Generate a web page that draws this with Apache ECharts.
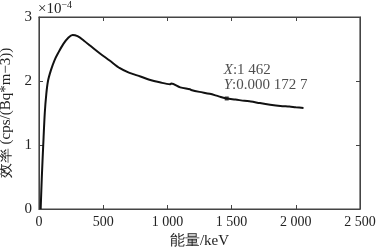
<!DOCTYPE html>
<html>
<head>
<meta charset="utf-8">
<script src="https://cdn.jsdelivr.net/npm/echarts@6/dist/echarts.min.js"></script>
<style>
  html, body { margin: 0; padding: 0; background: #fff; }
  #wrap { position: relative; width: 386px; height: 248px; }
  #main, #text { position: absolute; left: 0; top: 0; width: 386px; height: 248px; }
  #text { pointer-events: none; }
</style>
</head>
<body>
<div id="wrap">
  <div id="main"></div>
  <div id="text"></div>
</div>
<script>
// energy (keV) and efficiency (x1e-4 cps/(Bq*m-3))
const energy = [13, 22, 33, 45, 57, 70, 93, 120, 150, 190, 230, 262, 300, 350, 400, 475, 550, 630, 700, 790, 860, 940, 1020, 1030, 1100, 1176, 1185, 1250, 1330, 1400, 1462, 1530, 1600, 1650, 1720, 1800, 1880, 1950, 2000, 2060];
const efficiency = [0, 0.5, 1.0, 1.5, 1.8, 2.0, 2.17, 2.32, 2.44, 2.58, 2.68, 2.72, 2.7, 2.63, 2.55, 2.43, 2.32, 2.2, 2.13, 2.07, 2.02, 1.98, 1.95, 1.96, 1.9, 1.87, 1.86, 1.83, 1.8, 1.76, 1.727, 1.71, 1.69, 1.68, 1.655, 1.63, 1.61, 1.6, 1.59, 1.58];
const xTicks = [0, 500, 1000, 1500, 2000, 2500];
const yTicks = [0, 1, 2, 3];
const cursor = [1462, 1.727];
const cursorText = ['1 462', '0.000 172 7'];

const font = 'Liberation Serif, Times New Roman, serif';
const axisColor = '#444';
const grid = { left: 39, right: 26, top: 17, bottom: 39, outerBoundsMode: 'none' };

function fmtNum(v) {
  // thousands separated by a space, like the figure
  return String(v).replace(/\B(?=(\d{3})+(?!\d))/g, ' ');
}

function frameAxis(extra) {
  return Object.assign({
    type: 'value',
    axisLine: { show: true, onZero: false, lineStyle: { color: axisColor, width: 1 } },
    axisTick: { show: true, inside: true, length: 4, lineStyle: { color: axisColor } },
    axisLabel: { show: false },
    splitLine: { show: false }
  }, extra);
}

// box, ticks and curve
const chart = echarts.init(document.getElementById('main'));
chart.setOption({
  animation: false,
  grid: Object.assign({ show: true, borderColor: axisColor, borderWidth: 1.2 }, grid),
  xAxis: [
    frameAxis({ min: xTicks[0], max: xTicks[xTicks.length - 1], interval: 500 }),
    frameAxis({ position: 'top', min: xTicks[0], max: xTicks[xTicks.length - 1], interval: 500 })
  ],
  yAxis: [
    frameAxis({ min: yTicks[0], max: yTicks[yTicks.length - 1], interval: 1 }),
    frameAxis({ position: 'right', min: yTicks[0], max: yTicks[yTicks.length - 1], interval: 1 })
  ],
  series: [{
    type: 'line',
    data: energy.map((e, i) => [e, efficiency[i]]),
    showSymbol: false,
    smooth: 0.3,
    lineStyle: { color: '#111', width: 2 }
  }]
});

// labels, names and the data cursor on a transparent layer
const textChart = echarts.init(document.getElementById('text'));
textChart.setOption({
  animation: false,
  grid: grid,
  xAxis: {
    type: 'value',
    min: xTicks[0],
    max: xTicks[xTicks.length - 1],
    interval: 500,
    name: '能量/keV',
    nameLocation: 'middle',
    nameGap: 25,
    nameTextStyle: { color: '#222', fontFamily: font, fontSize: 15 },
    axisLine: { show: false, onZero: false },
    axisTick: { show: false },
    axisLabel: { color: '#222', fontFamily: font, fontSize: 14, margin: 6, formatter: fmtNum },
    splitLine: { show: false }
  },
  yAxis: {
    type: 'value',
    min: yTicks[0],
    max: yTicks[yTicks.length - 1],
    interval: 1,
    name: '效率 (cps/(Bq*m−3))',
    nameLocation: 'middle',
    nameGap: 19,
    nameTextStyle: { color: '#222', fontFamily: font, fontSize: 15 },
    axisLine: { show: false, onZero: false },
    axisTick: { show: false },
    axisLabel: { color: '#222', fontFamily: font, fontSize: 15, margin: 7 },
    splitLine: { show: false }
  },
  graphic: [{
    type: 'text',
    left: 38,
    top: 0,
    style: {
      text: '{a|×10}{b|−4}',
      rich: {
        a: { fontFamily: font, fontSize: 15, fill: '#222', verticalAlign: 'bottom' },
        b: { fontFamily: font, fontSize: 10, fill: '#222', padding: [0, 0, 7, 0] }
      }
    }
  }],
  series: [{
    type: 'scatter',
    data: [cursor],
    symbol: 'rect',
    symbolSize: 4,
    itemStyle: { color: '#111' },
    label: {
      show: true,
      position: [-1, -34],
      align: 'left',
      verticalAlign: 'top',
      formatter: '{i|X}{n|:' + cursorText[0] + '}\n{i|Y}{n|:' + cursorText[1] + '}',
      rich: {
        i: { fontFamily: font, fontSize: 15, fontStyle: 'italic', color: '#222', lineHeight: 15 },
        n: { fontFamily: font, fontSize: 15, color: '#222', lineHeight: 15 }
      }
    }
  }]
});
</script>
</body>
</html>
